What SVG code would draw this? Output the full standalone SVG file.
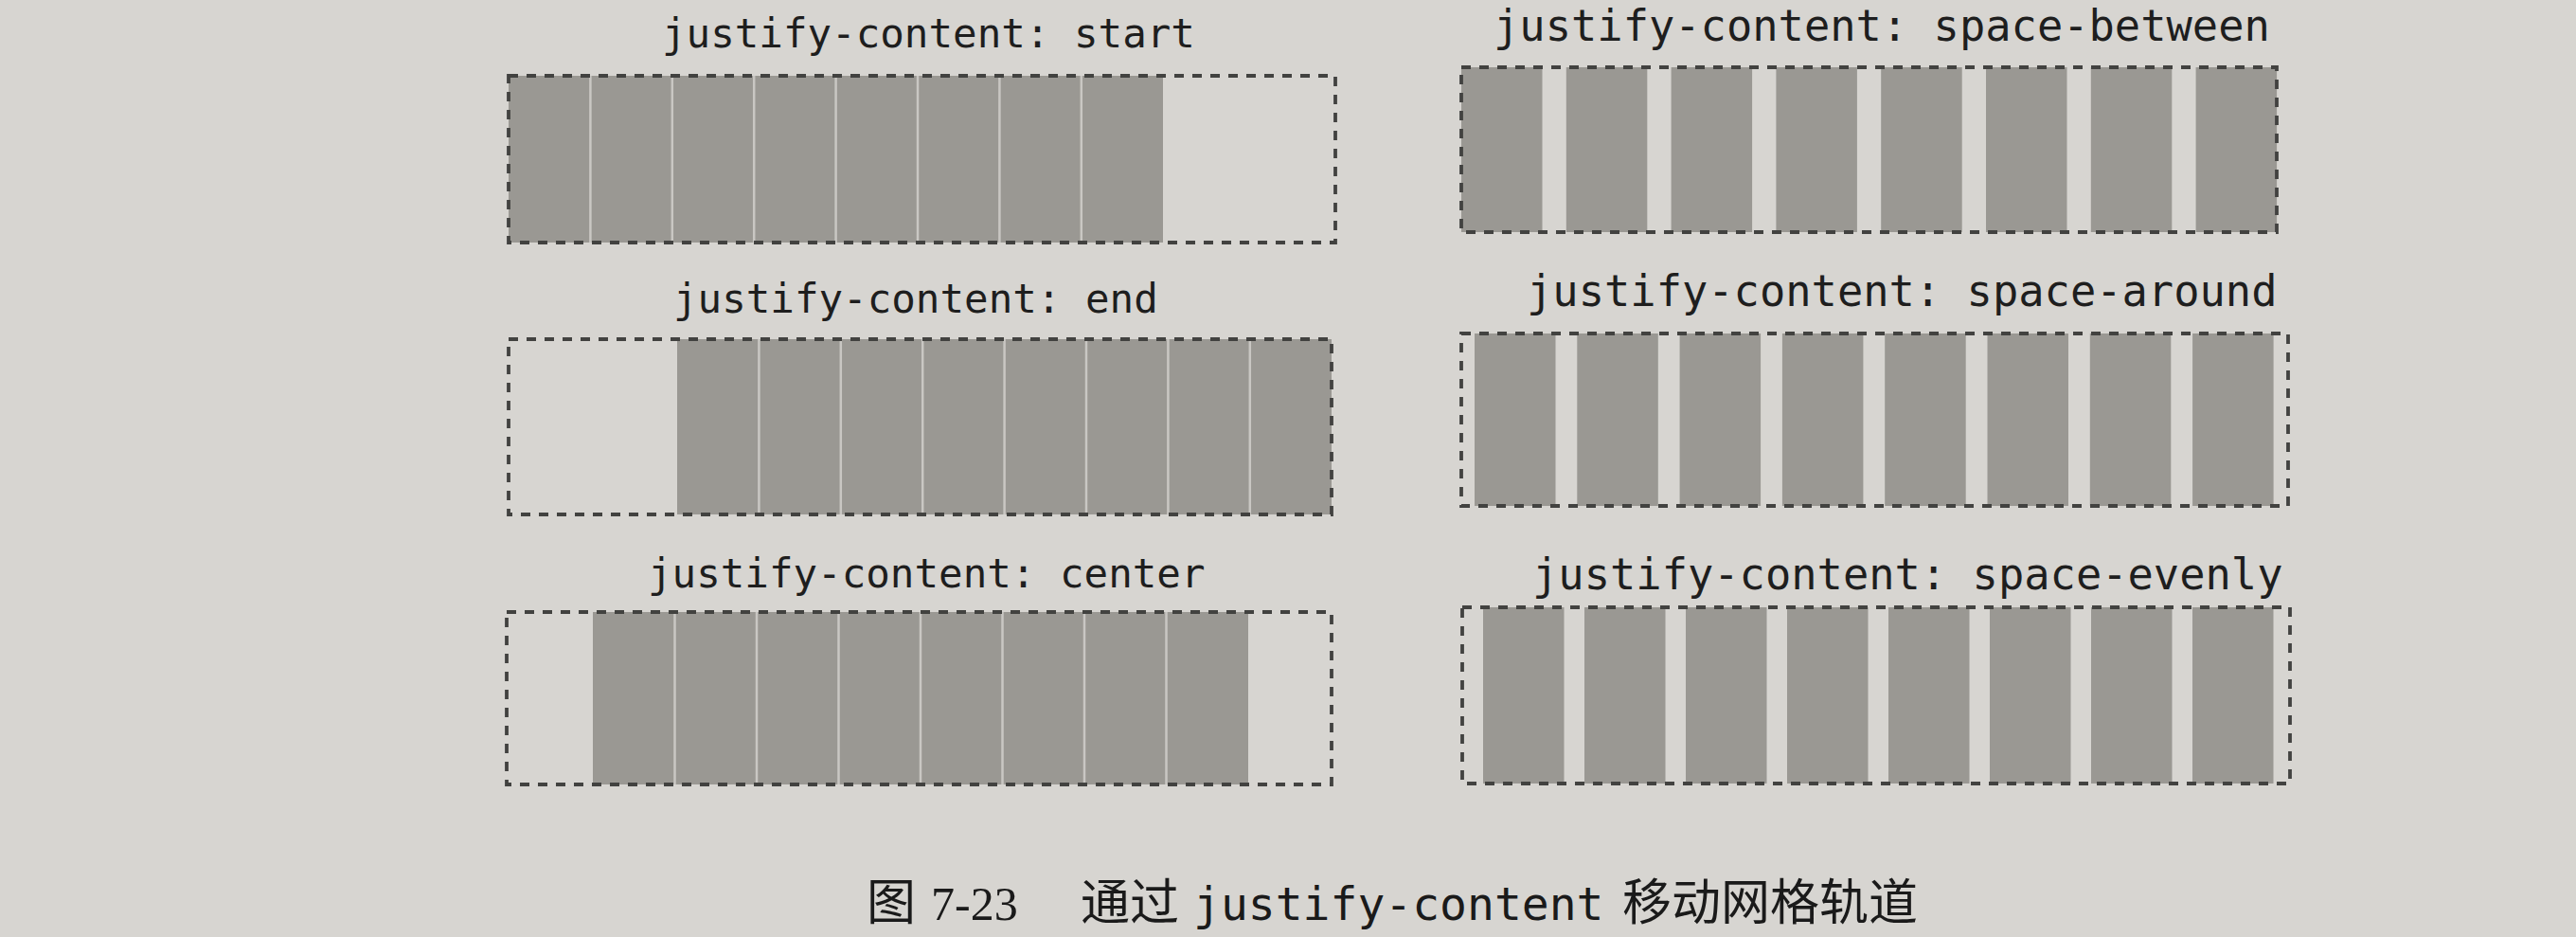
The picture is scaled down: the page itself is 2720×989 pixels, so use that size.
<svg xmlns="http://www.w3.org/2000/svg" width="2720" height="989" viewBox="0 0 2720 989">
  <style>
    .bg { fill: #d7d5d1; }
    .box { fill: none; stroke: #424240; stroke-width: 3.8; stroke-dasharray: 10 9; }
    .trk { fill: #9a9893; }
    .sep { stroke: #c9c7c3; stroke-width: 2.5; }
    .lblL { font-family: "DejaVu Sans Mono", "Liberation Mono", monospace; font-size: 42.5px; fill: #1e1e1e; }
    .lblR { font-family: "DejaVu Sans Mono", "Liberation Mono", monospace; font-size: 45.4px; fill: #1e1e1e; }
    .cjk { font-family: "Noto Sans CJK SC", "Noto Sans", sans-serif; font-size: 52px; fill: #1a1a1a; }
    .num { font-family: "Liberation Serif", serif; font-size: 50px; fill: #1a1a1a; }
    .mono { font-family: "DejaVu Sans Mono", "Liberation Mono", monospace; font-size: 48px; fill: #1a1a1a; }
  </style>
  <rect class="bg" x="0" y="0" width="2720" height="989"/>

  <g id="panel-start">
    <text class="lblL" x="699" y="50">justify-content: start</text>
    <rect class="trk" x="537" y="80" width="691" height="176"/>
    <g class="sep">
      <line x1="623.4" y1="80" x2="623.4" y2="256"/>
      <line x1="709.8" y1="80" x2="709.8" y2="256"/>
      <line x1="796.2" y1="80" x2="796.2" y2="256"/>
      <line x1="882.6" y1="80" x2="882.6" y2="256"/>
      <line x1="969" y1="80" x2="969" y2="256"/>
      <line x1="1055.4" y1="80" x2="1055.4" y2="256"/>
      <line x1="1141.8" y1="80" x2="1141.8" y2="256"/>
    </g>
    <rect class="box" x="537" y="80" width="873" height="176"/>
  </g>

  <g id="panel-end">
    <text class="lblL" x="711" y="330">justify-content: end</text>
    <rect class="trk" x="715" y="358" width="691" height="185"/>
    <g class="sep">
      <line x1="801.4" y1="358" x2="801.4" y2="543"/>
      <line x1="887.8" y1="358" x2="887.8" y2="543"/>
      <line x1="974.2" y1="358" x2="974.2" y2="543"/>
      <line x1="1060.6" y1="358" x2="1060.6" y2="543"/>
      <line x1="1147" y1="358" x2="1147" y2="543"/>
      <line x1="1233.4" y1="358" x2="1233.4" y2="543"/>
      <line x1="1319.8" y1="358" x2="1319.8" y2="543"/>
    </g>
    <rect class="box" x="537" y="358" width="869" height="185"/>
  </g>

  <g id="panel-center">
    <text class="lblL" x="684" y="620">justify-content: center</text>
    <rect class="trk" x="626" y="646" width="692" height="182"/>
    <g class="sep">
      <line x1="712.5" y1="646" x2="712.5" y2="828"/>
      <line x1="799" y1="646" x2="799" y2="828"/>
      <line x1="885.5" y1="646" x2="885.5" y2="828"/>
      <line x1="972" y1="646" x2="972" y2="828"/>
      <line x1="1058.5" y1="646" x2="1058.5" y2="828"/>
      <line x1="1145" y1="646" x2="1145" y2="828"/>
      <line x1="1231.5" y1="646" x2="1231.5" y2="828"/>
    </g>
    <rect class="box" x="535" y="646" width="871" height="182"/>
  </g>

  <g id="panel-space-between">
    <text class="lblR" x="1577" y="43">justify-content: space-between</text>
    <rect class="trk" x="1543" y="71" width="85.5" height="174"/>
    <rect class="trk" x="1653.8" y="71" width="85.5" height="174"/>
    <rect class="trk" x="1764.6" y="71" width="85.5" height="174"/>
    <rect class="trk" x="1875.4" y="71" width="85.5" height="174"/>
    <rect class="trk" x="1986.2" y="71" width="85.5" height="174"/>
    <rect class="trk" x="2097" y="71" width="85.5" height="174"/>
    <rect class="trk" x="2207.8" y="71" width="85.5" height="174"/>
    <rect class="trk" x="2318.6" y="71" width="85.5" height="174"/>
    <rect class="box" x="1543" y="71" width="861" height="174"/>
  </g>

  <g id="panel-space-around">
    <text class="lblR" x="1612" y="323">justify-content: space-around</text>
    <rect class="trk" x="1557" y="352" width="85.5" height="182"/>
    <rect class="trk" x="1665.3" y="352" width="85.5" height="182"/>
    <rect class="trk" x="1773.6" y="352" width="85.5" height="182"/>
    <rect class="trk" x="1881.9" y="352" width="85.5" height="182"/>
    <rect class="trk" x="1990.2" y="352" width="85.5" height="182"/>
    <rect class="trk" x="2098.5" y="352" width="85.5" height="182"/>
    <rect class="trk" x="2206.8" y="352" width="85.5" height="182"/>
    <rect class="trk" x="2315.1" y="352" width="85.5" height="182"/>
    <rect class="box" x="1543" y="352" width="873" height="182"/>
  </g>

  <g id="panel-space-evenly">
    <text class="lblR" x="1618" y="622">justify-content: space-evenly</text>
    <rect class="trk" x="1566" y="641" width="85.5" height="186"/>
    <rect class="trk" x="1673" y="641" width="85.5" height="186"/>
    <rect class="trk" x="1780" y="641" width="85.5" height="186"/>
    <rect class="trk" x="1887" y="641" width="85.5" height="186"/>
    <rect class="trk" x="1994" y="641" width="85.5" height="186"/>
    <rect class="trk" x="2101" y="641" width="85.5" height="186"/>
    <rect class="trk" x="2208" y="641" width="85.5" height="186"/>
    <rect class="trk" x="2315" y="641" width="85.5" height="186"/>
    <rect class="box" x="1544" y="641" width="874" height="186"/>
  </g>

  <g id="caption">
    <text class="cjk" x="915" y="971">图</text>
    <text class="num" x="983" y="971">7-23</text>
    <text class="cjk" x="1141" y="971">通过</text>
    <text class="mono" x="1260" y="971">justify-content</text>
    <text class="cjk" x="1713" y="971">移动网格轨道</text>
  </g>
</svg>
